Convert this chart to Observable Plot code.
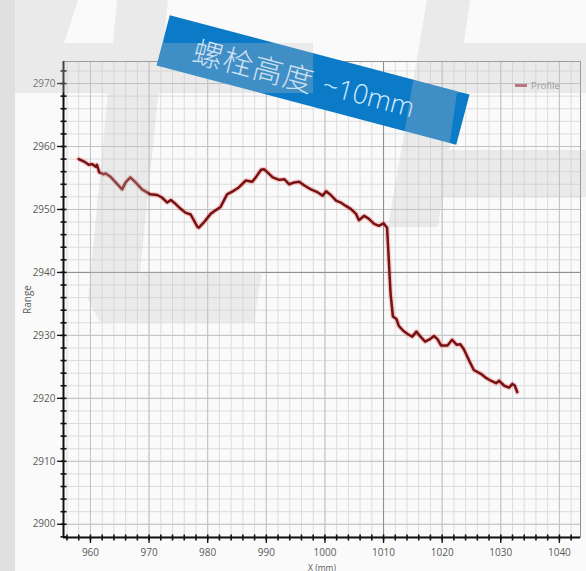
<!DOCTYPE html>
<html>
<head>
<meta charset="utf-8">
<script src="https://cdn.jsdelivr.net/npm/d3@7"></script>
<script src="https://cdn.jsdelivr.net/npm/@observablehq/plot@0.6"></script>
<style>
  html, body { margin: 0; padding: 0; background: #fafafa; }
  #wrap { position: relative; width: 586px; height: 571px; overflow: hidden; background: #fafafa; }
  #chart svg { display: block; }
  #banner {
    position: absolute; left: 158px; top: 54px; width: 310px; height: 52px;
    background: #0b7bc8; transform: rotate(14.8deg); transform-origin: center;
    display: flex; align-items: center; box-sizing: border-box; padding-left: 32px;
    color: #d6ecff; font-family: "Noto Sans CJK SC", "Open Sans", sans-serif; white-space: nowrap;
  }
  #banner .cjk { font-size: 30px; letter-spacing: 1px; font-weight: 300; }
  #banner .num { font-size: 27px; margin-left: 10px; font-family: "Open Sans", sans-serif; font-weight: 300; }
  #legend { position: absolute; left: 515px; top: 79px; font: 9.5px "Open Sans", sans-serif; color: #8a8a8a; display: flex; align-items: center; }
  #legend .sw { width: 12px; height: 3px; background: #b45a66; margin-right: 4px; }
  #wm { position: absolute; left: 0; top: 0; pointer-events: none; }
</style>
</head>
<body>
<div id="wrap">
  <div id="chart"></div>
  <div id="legend"><span class="sw"></span><span>Profile</span></div>
  <div id="banner"><span class="cjk">螺栓高度</span><span class="num">~10mm</span></div>
  <svg id="wm" width="586" height="571">
    <rect x="0" y="0" width="15" height="571" fill="#d4d4d4" opacity="0.7"></rect>
    <g fill="#c4c4c4" opacity="0.28">
      <polygon points="15,0 78,0 64,43 15,43"></polygon>
      <polygon points="15,43 313,43 313,93 15,93"></polygon>
      <polygon points="117,0 168,0 140,272 262,272 254,322 100,322 88,300"></polygon>
      <polygon points="427,0 470,0 438,227 388,227"></polygon>
      <polygon points="445,43 586,43 586,93 437,93"></polygon>
      <polygon points="446,150 586,150 586,197 439,197"></polygon>
    </g>
  </svg>
</div>
<script>
// Profile data (X in mm, Range)
const xs = [958.0, 959.1, 959.7, 960.3, 960.9, 961.1, 961.5, 962.2, 962.6, 963.4,
  964.3, 965.4, 966.0, 966.8, 967.7, 968.8, 970.2, 971.4, 972.2, 973.1,
  973.7, 974.5, 975.4, 976.2, 977.1, 978.2, 978.5, 979.3, 980.5, 981.4,
  982.2, 983.3, 984.5, 985.3, 986.5, 987.6, 988.2, 989.1, 989.6, 990.2,
  991.1, 992.2, 993.1, 993.9, 994.8, 995.6, 996.5, 997.6, 998.8, 999.6,
  1000.2, 1001.0, 1001.9, 1002.7, 1003.5, 1004.4, 1005.3, 1005.8, 1006.7, 1007.5,
  1008.4, 1009.2, 1010.0, 1010.6, 1010.9, 1011.2, 1011.6, 1012.2, 1012.6, 1013.4,
  1014.3, 1014.9, 1015.6, 1016.3, 1017.1, 1017.9, 1018.6, 1019.2, 1019.8, 1020.9,
  1021.7, 1022.5, 1023.1, 1023.7, 1024.6, 1025.4, 1026.6, 1027.4, 1028.3, 1029.2,
  1029.7, 1030.6, 1031.4, 1032.0, 1032.4, 1032.8];
const ys = [2958.0, 2957.5, 2957.1, 2957.2, 2956.8, 2957.1, 2955.9, 2955.6, 2955.7, 2955.2,
  2954.3, 2953.2, 2954.3, 2955.1, 2954.3, 2953.2, 2952.4, 2952.3, 2951.9, 2951.1,
  2951.5, 2950.9, 2950.1, 2949.5, 2949.2, 2947.3, 2947.1, 2947.9, 2949.3, 2949.9,
  2950.4, 2952.4, 2953.0, 2953.5, 2954.6, 2954.4, 2955.1, 2956.3, 2956.4, 2955.9,
  2955.1, 2954.7, 2954.8, 2954.0, 2954.3, 2954.4, 2953.8, 2953.2, 2952.7, 2952.2,
  2952.9, 2952.3, 2951.4, 2951.1, 2950.6, 2950.1, 2949.3, 2948.3, 2949.0, 2948.5,
  2947.7, 2947.4, 2947.8, 2947.1, 2941.9, 2936.6, 2933.0, 2932.6, 2931.5, 2930.7,
  2930.1, 2929.8, 2930.6, 2929.8, 2929.0, 2929.4, 2929.9, 2929.4, 2928.4, 2928.4,
  2929.3, 2928.5, 2928.6, 2927.8, 2926.0, 2924.5, 2923.9, 2923.3, 2922.8, 2922.4,
  2922.8, 2922.0, 2921.7, 2922.3, 2922.0, 2921.0];

const xTicks = [960, 970, 980, 990, 1000, 1010, 1020, 1030, 1040];
const yTicks = [2900, 2910, 2920, 2930, 2940, 2950, 2960, 2970];
const xDomain = [955.4, 1043.6];
const yDomain = [2897.9, 2973.5];
const cursorX = [1010];
const cursorY = [2940];

const data = xs.map((x, i) => ({x, y: ys[i]}));
const minorX = d3.range(956, 1044, 2);
const minorY = d3.range(2898, 2974, 2);

const hDash = {draw(ctx) { ctx.moveTo(-3, 0); ctx.lineTo(3, 0); }};
const vDash = {draw(ctx) { ctx.moveTo(0, -3); ctx.lineTo(0, 3); }};

const chart = Plot.plot({
  width: 586, height: 571,
  marginTop: 61, marginRight: 6, marginBottom: 34, marginLeft: 63,
  style: {fontFamily: "'Open Sans', sans-serif", fontSize: "10px", background: "transparent", color: "#555"},
  x: {domain: xDomain, label: null},
  y: {domain: yDomain},
  marks: [
    Plot.gridX(minorX, {stroke: "#dcdcdc", strokeOpacity: 1}),
    Plot.gridY(minorY, {stroke: "#dcdcdc", strokeOpacity: 1}),
    Plot.gridX(xTicks, {stroke: "#c2c2c2", strokeOpacity: 1}),
    Plot.gridY(yTicks, {stroke: "#c2c2c2", strokeOpacity: 1}),
    Plot.ruleX(cursorX, {stroke: "#8c8c8c"}),
    Plot.ruleY(cursorY, {stroke: "#8c8c8c"}),
    Plot.frame({stroke: "#8f8f8f"}),
    Plot.line(data, {x: "x", y: "y", stroke: "#e23b3b", strokeWidth: 5, strokeOpacity: 0.25}),
    Plot.line(data, {x: "x", y: "y", stroke: "#781212", strokeWidth: 2.5}),
    Plot.dot(minorY, {x: () => xDomain[0], y: d => d, symbol: hDash, stroke: "#111", strokeWidth: 1.6, r: 3}),
    Plot.dot(minorX, {x: d => d, y: () => yDomain[0], symbol: vDash, stroke: "#111", strokeWidth: 1.6, r: 3}),
    Plot.ruleX([xDomain[0]], {stroke: "#111", strokeWidth: 2}),
    Plot.ruleY([yDomain[0]], {stroke: "#111", strokeWidth: 2}),
    Plot.axisX(xTicks, {tickSize: 6, tickPadding: 5, stroke: "#111", strokeWidth: 1.3, fill: "#5a5a5a",
      tickFormat: d3.format("d"), label: null}),
    Plot.text(["X (mm)"], {frameAnchor: "bottom", dy: 33, lineAnchor: "bottom", fontSize: 8.5, fill: "#5a5a5a"}),
    Plot.axisY(yTicks, {tickSize: 6, tickPadding: 2, stroke: "#111", strokeWidth: 1.3, fill: "#5a5a5a",
      tickFormat: d3.format("d"),
      label: "Range", labelAnchor: "center", labelArrow: "none", labelOffset: 40})
  ]
});
document.getElementById("chart").append(chart);
</script>
</body>
</html>
